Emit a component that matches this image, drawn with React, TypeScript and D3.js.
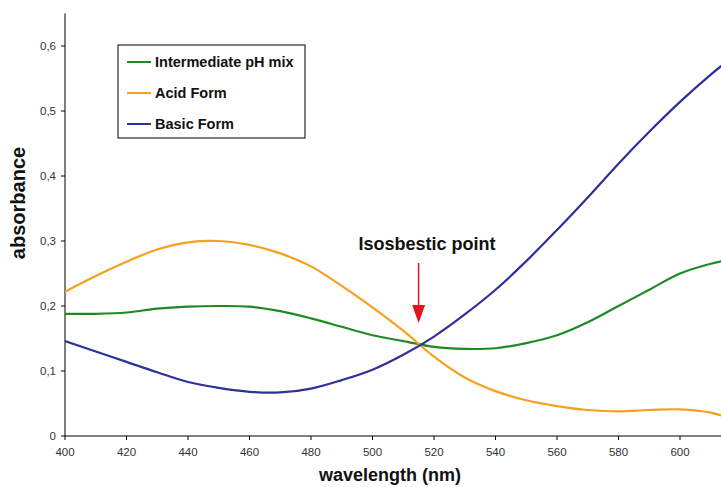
import React from "react";
import * as d3 from "d3";

const wavelengths = [400, 410, 420, 430, 440, 450, 460, 470, 480, 490, 500, 510, 520, 530, 540, 550, 560, 570, 580, 590, 600, 610, 615];
const intermediate = [0.188, 0.188, 0.19, 0.196, 0.199, 0.2, 0.199, 0.192, 0.181, 0.168, 0.155, 0.146, 0.137, 0.134, 0.135, 0.143, 0.155, 0.175, 0.2, 0.225, 0.25, 0.265, 0.27];
const acid = [0.222, 0.246, 0.268, 0.287, 0.298, 0.3, 0.294, 0.281, 0.261, 0.231, 0.198, 0.162, 0.122, 0.09, 0.069, 0.055, 0.046, 0.04, 0.038, 0.04, 0.041, 0.036, 0.029];
const basic = [0.146, 0.13, 0.114, 0.098, 0.083, 0.074, 0.068, 0.067, 0.073, 0.086, 0.102, 0.125, 0.153, 0.187, 0.225, 0.269, 0.317, 0.367, 0.419, 0.468, 0.514, 0.556, 0.575];
const xTicks = [400, 420, 440, 460, 480, 500, 520, 540, 560, 580, 600];
const yTicks = [0, 0.1, 0.2, 0.3, 0.4, 0.5, 0.6];
const seriesNames = ["Intermediate pH mix", "Acid Form", "Basic Form"];
const seriesColors = ["#1f8a24", "#f5a11f", "#30309a"];
const annotationText = "Isosbestic point";
const isosbestic = { wl: 515, value: 0.14 };

export default function App() {
  const W = 721, H = 487;
  const x = d3.scaleLinear().domain([400, 600]).range([65, 680]);
  const y = d3.scaleLinear().domain([0, 0.6]).range([436, 46]);
  const yTop = y(0.65);
  const line = d3
    .line<number>()
    .x((_, i) => x(wavelengths[i]))
    .y((d) => y(d))
    .curve(d3.curveCatmullRom.alpha(0.5));
  const series = [intermediate, acid, basic];
  const narrow = "'Liberation Sans Narrow', 'Arial Narrow', 'Liberation Sans', Arial, sans-serif";
  const bold = "'Liberation Sans', Arial, sans-serif";
  const ax = x(isosbestic.wl);
  const ay = y(isosbestic.value);
  return (
    <svg width={W} height={H} style={{ position: "absolute", left: 0, top: 0, background: "#fff" }}>
      <defs>
        <clipPath id="plot">
          <rect x={65} y={0} width={W - 65} height={437} />
        </clipPath>
      </defs>
      {/* axes */}
      <line x1={65} x2={65} y1={yTop} y2={436} stroke="#000" strokeWidth={1} />
      <line x1={65} x2={W} y1={436} y2={436} stroke="#000" strokeWidth={1} />
      {yTicks.map((t) => (
        <g key={"y" + t}>
          <line x1={61} x2={65} y1={y(t)} y2={y(t)} stroke="#000" />
          <text x={56} y={y(t)} dy="0.35em" textAnchor="end" fontFamily={narrow} fontSize={11.5} fill="#333">
            {t === 0 ? "0" : d3.format(".1f")(t).replace(".", ",")}
          </text>
        </g>
      ))}
      {xTicks.map((t) => (
        <g key={"x" + t}>
          <line x1={x(t)} x2={x(t)} y1={436} y2={440} stroke="#000" />
          <text x={x(t)} y={456} textAnchor="middle" fontFamily={narrow} fontSize={11.5} fill="#333">
            {t}
          </text>
        </g>
      ))}
      <text x={390} y={481} textAnchor="middle" fontFamily={bold} fontWeight="bold" fontSize={18} fill="#111">
        wavelength (nm)
      </text>
      <text transform="translate(25,203) rotate(-90)" textAnchor="middle" fontFamily={bold} fontWeight="bold" fontSize={20} fill="#111">
        absorbance
      </text>
      {/* series */}
      <g clipPath="url(#plot)">
        {series.map((s, i) => (
          <path key={i} d={line(s) || ""} fill="none" stroke={seriesColors[i]} strokeWidth={2.2} strokeLinejoin="round" />
        ))}
      </g>
      {/* annotation */}
      <text x={427} y={250} textAnchor="middle" fontFamily={bold} fontWeight="bold" fontSize={18} fill="#111">
        {annotationText}
      </text>
      <line x1={ax} x2={ax} y1={263} y2={ay - 36} stroke="#e8141c" strokeWidth={1.5} />
      <path d={`M${ax - 6.5},${ay - 40} L${ax + 6.5},${ay - 40} L${ax},${ay - 22} Z`} fill="#e8141c" />
      {/* legend */}
      <rect x={118} y={45} width={187} height={93} fill="#fff" stroke="#000" strokeWidth={1} />
      {seriesNames.map((n, i) => (
        <g key={n} transform={`translate(0,${62 + i * 31})`}>
          <line x1={127} x2={151} y1={0} y2={0} stroke={seriesColors[i]} strokeWidth={2} />
          <text x={155} y={0} dy="0.35em" fontFamily={bold} fontWeight="bold" fontSize={14.5} fill="#111">
            {n}
          </text>
        </g>
      ))}
    </svg>
  );
}
